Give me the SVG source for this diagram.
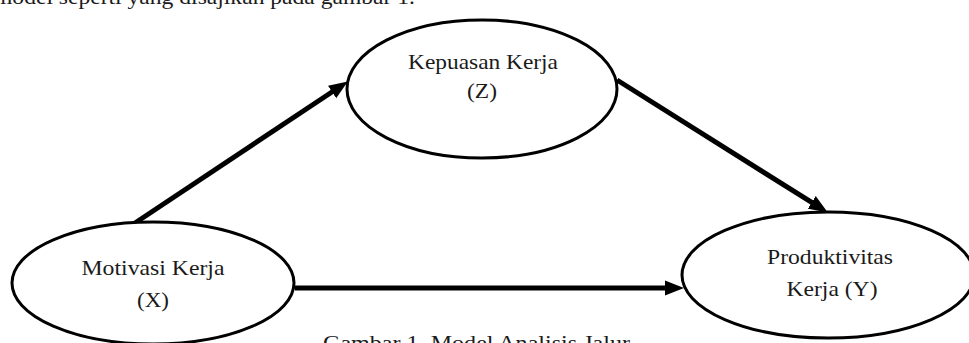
<svg xmlns="http://www.w3.org/2000/svg" width="969" height="343" viewBox="0 0 969 343">
<style>
.node ellipse{fill:#fff;stroke:#000;stroke-width:3}
text{font-family:"Liberation Serif","Times New Roman",serif;font-size:21.5px;fill:#1a1a1a}
.lbl{text-anchor:middle}
.conn line{stroke:#000;stroke-width:5}
</style>
<defs>
<marker id="ah" markerUnits="userSpaceOnUse" markerWidth="19" markerHeight="16" refX="8" refY="8" orient="auto" viewBox="0 0 19 16">
<path d="M0,0.5 L19,8 L0,15.5 z" fill="#000"/>
</marker>
</defs>
<rect width="969" height="343" fill="#fff"/>
<text x="-6" y="4" textLength="421" lengthAdjust="spacingAndGlyphs">model seperti yang disajikan pada gambar 1.</text>
<g class="conn">
<line x1="135" y1="223" x2="338.7" y2="87.5" marker-end="url(#ah)"/>
<line x1="617" y1="80" x2="818.5" y2="206.7" marker-end="url(#ah)"/>
<line x1="295" y1="288" x2="673" y2="288" marker-end="url(#ah)"/>
</g>
<g id="nodeZ" class="node">
<ellipse cx="482" cy="89" rx="135" ry="69"/>
<text class="lbl" x="483" y="69" textLength="150" lengthAdjust="spacingAndGlyphs">Kepuasan Kerja</text>
<text class="lbl" x="482" y="98" textLength="30" lengthAdjust="spacingAndGlyphs">(Z)</text>
</g>
<g id="nodeX" class="node">
<ellipse cx="153" cy="283" rx="141" ry="61"/>
<text class="lbl" x="153" y="275" textLength="143" lengthAdjust="spacingAndGlyphs">Motivasi Kerja</text>
<text class="lbl" x="153" y="307" textLength="32" lengthAdjust="spacingAndGlyphs">(X)</text>
</g>
<g id="nodeY" class="node">
<ellipse cx="828" cy="275" rx="146" ry="63"/>
<text class="lbl" x="830" y="264" textLength="126" lengthAdjust="spacingAndGlyphs">Produktivitas</text>
<text class="lbl" x="832" y="296" textLength="91" lengthAdjust="spacingAndGlyphs">Kerja (Y)</text>
</g>
<text x="323" y="350" textLength="307" lengthAdjust="spacingAndGlyphs">Gambar 1. Model Analisis Jalur</text>
</svg>
